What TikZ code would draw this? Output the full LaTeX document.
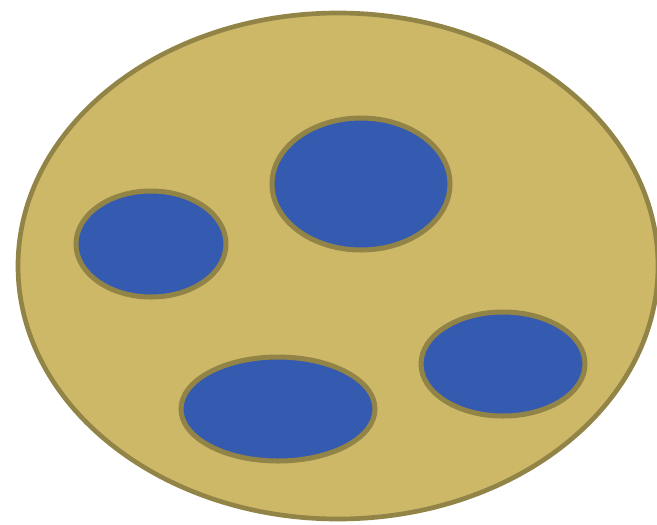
\documentclass[tikz,border=0pt]{standalone}
\usetikzlibrary{calc}

\definecolor{cellbody}{RGB}{205,184,104}
\definecolor{cellrim}{RGB}{146,131,70}
\definecolor{vesicle}{RGB}{52,91,176}

\begin{document}
\begin{tikzpicture}[x=0.03cm, y=-0.03cm]

\useasboundingbox (0,0) rectangle (657,524);

% centres of the cell and its vesicles
\coordinate (O) at (338,266);
\coordinate (P) at (151,244);
\coordinate (Q) at (361,184);
\coordinate (R) at (278,409);
\coordinate (S) at (503,364);

% the cell
\draw[cellrim, fill=cellbody, line width=0.14cm] (O) ellipse [x radius=320, y radius=253];

% vesicles
\draw[cellrim, fill=vesicle, line width=0.15cm] (P) ellipse [x radius=75, y radius=53];
\draw[cellrim, fill=vesicle, line width=0.15cm] (Q) ellipse [x radius=89, y radius=66];
\draw[cellrim, fill=vesicle, line width=0.15cm] (R) ellipse [x radius=97, y radius=52];
\draw[cellrim, fill=vesicle, line width=0.15cm] (S) ellipse [x radius=82, y radius=52];

\end{tikzpicture}
\end{document}
